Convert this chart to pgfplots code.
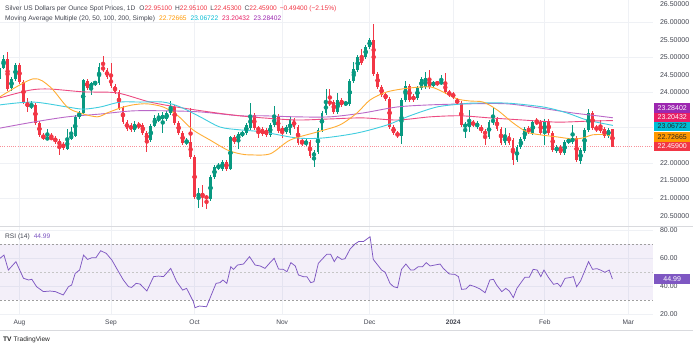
\documentclass[border=0pt]{standalone}
\usepackage{pgfplots}
\usepackage{pgfplotstable}
\pgfplotsset{compat=1.18}
\usepackage{fontspec}
\setmainfont{Liberation Sans}
\definecolor{up}{HTML}{089981}
\definecolor{dn}{HTML}{F23645}
\definecolor{ma20}{HTML}{FF9800}
\definecolor{ma50}{HTML}{00BCD4}
\definecolor{ma100}{HTML}{E91E63}
\definecolor{ma200}{HTML}{9C27B0}
\definecolor{rsi}{HTML}{7E57C2}
\definecolor{txt}{HTML}{434651}
\definecolor{gridc}{HTML}{EFF1F5}
\newcommand\hfont{\fontsize{6.6}{8}\selectfont}
\newcommand\sfont{\fontsize{7}{8}\selectfont}

\pgfplotstableread{
i O H L C
0 24.39 24.78 24.33 24.70
1 24.70 25.07 24.66 24.95
3 24.13 24.45 24.05 24.39
4 24.39 24.84 24.33 24.78
8 23.59 23.76 23.53 23.65
12 22.68 22.97 22.65 22.71
17 22.40 22.97 22.37 22.68
18 22.68 23.02 22.65 22.80
19 22.77 23.36 22.74 23.31
20 23.31 23.48 23.25 23.42
21 23.42 24.39 23.39 24.36
23 24.13 24.30 23.93 24.27
24 24.27 24.33 24.20 24.28
25 24.27 24.84 24.22 24.73
34 22.94 23.19 22.88 23.11
38 22.65 23.11 22.60 23.05
39 23.05 23.36 23.02 23.28
40 23.22 23.42 23.16 23.28
41 23.25 23.45 22.85 23.36
42 23.25 23.48 23.19 23.42
43 23.42 23.76 23.36 23.59
47 22.57 22.71 22.51 22.63
50 21.03 21.30 20.72 21.15
53 20.98 21.66 20.92 21.60
54 21.60 21.94 21.55 21.89
55 21.86 22.00 21.80 21.91
56 21.83 22.09 21.78 22.03
58 21.83 22.77 21.80 22.74
60 22.65 22.88 22.40 22.82
61 22.80 22.91 22.74 22.85
62 22.85 23.14 22.80 23.08
63 22.99 23.70 22.94 23.36
68 22.80 23.14 22.74 23.08
69 23.08 23.62 23.02 23.31
72 22.88 23.08 22.82 23.02
73 22.85 23.31 22.80 23.25
77 22.54 22.68 22.48 22.60
79 22.17 22.37 21.89 22.31
80 22.31 22.99 22.25 22.94
81 22.94 23.48 22.88 23.42
82 23.42 24.10 23.36 23.73
85 23.45 23.99 23.39 23.79
87 23.68 23.76 23.62 23.70
88 23.68 24.39 23.62 24.33
89 24.33 24.87 24.27 24.67
90 24.64 25.07 24.59 25.01
92 25.01 25.35 24.95 25.30
93 25.30 25.55 25.24 25.49
101 22.77 23.85 22.54 23.79
102 23.79 24.33 23.73 24.19
105 23.85 24.19 23.79 24.13
106 24.13 24.44 24.07 24.39
107 24.16 24.59 24.10 24.41
109 24.22 24.33 24.16 24.27
111 24.27 24.50 24.22 24.30
117 23.02 23.16 22.71 23.10
118 23.02 23.51 22.88 23.16
120 23.02 23.19 22.97 23.14
123 22.74 23.22 22.68 23.16
124 23.14 23.56 23.08 23.25
127 22.57 23.00 22.51 22.77
130 22.09 22.51 22.03 22.45
131 22.45 22.74 22.40 22.68
132 22.68 23.02 22.63 22.97
134 22.85 23.22 22.80 23.16
137 22.85 23.25 22.51 23.19
140 22.34 22.51 22.28 22.45
142 22.28 22.65 22.23 22.60
143 22.60 22.71 22.54 22.65
144 22.60 23.08 22.54 22.71
146 22.06 22.43 21.97 22.37
147 22.34 22.99 22.28 22.94
148 22.94 23.53 22.88 23.42
153 22.77 23.00 22.71 22.95
}\upc

\pgfplotstableread{
i O H L C
2 24.95 25.15 24.05 24.10
5 24.78 24.84 24.25 24.30
6 24.30 24.36 23.68 23.73
7 23.73 23.85 23.45 23.59
9 23.65 23.70 23.08 23.14
10 23.14 23.19 22.74 22.80
11 22.80 22.85 22.65 22.68
13 22.71 22.85 22.65 22.70
14 22.70 22.77 22.55 22.60
15 22.62 22.68 22.23 22.51
16 22.54 22.60 22.38 22.43
22 24.33 24.39 24.07 24.13
26 24.73 25.04 24.59 24.64
27 24.64 24.70 24.39 24.44
28 24.44 24.84 24.13 24.19
29 24.19 24.24 23.96 24.02
30 24.02 24.07 23.51 23.56
31 23.56 23.62 23.11 23.16
32 23.16 23.22 22.91 22.97
33 23.08 23.14 22.88 22.94
35 23.10 23.16 22.97 23.02
36 23.08 23.14 22.80 22.85
37 22.85 22.91 22.31 22.65
44 23.59 23.65 23.08 23.14
45 23.14 23.19 22.80 22.85
46 22.85 22.91 22.51 22.57
48 22.60 23.56 22.11 22.17
49 22.17 22.23 20.98 21.03
51 21.15 21.38 20.75 21.03
52 21.03 21.10 20.69 21.01
57 22.03 22.09 21.78 21.83
59 22.74 22.80 22.54 22.60
64 23.36 23.42 22.94 22.99
65 22.99 23.05 22.71 22.94
66 22.97 23.02 22.77 22.82
67 22.94 23.00 22.74 22.80
70 23.34 23.39 22.85 22.91
71 22.99 23.05 22.71 22.88
74 23.22 23.28 22.97 23.02
75 23.02 23.08 22.51 22.57
76 22.63 22.68 22.48 22.57
78 22.60 22.65 22.14 22.20
83 23.73 24.10 23.62 23.70
84 23.73 23.79 23.39 23.45
86 23.79 23.85 23.59 23.65
91 25.04 25.24 24.78 24.84
94 25.49 25.95 24.47 24.53
95 24.53 24.59 24.10 24.16
96 24.16 24.22 23.88 23.93
97 23.96 24.02 23.76 23.82
98 23.82 23.88 22.97 23.02
99 23.02 23.08 22.80 22.85
100 22.85 22.91 22.71 22.77
103 24.19 24.24 23.73 23.79
104 23.90 23.96 23.73 23.79
108 24.39 24.64 24.10 24.16
110 24.27 24.33 24.20 24.26
112 24.27 24.56 23.96 24.02
113 24.02 24.07 23.88 23.93
114 23.96 24.02 23.82 23.88
115 23.79 23.85 23.65 23.70
116 23.70 23.76 23.02 23.08
119 23.16 23.22 23.02 23.08
121 23.02 23.08 22.85 22.91
122 22.91 22.97 22.51 22.80
125 23.25 23.31 22.91 22.97
126 22.97 23.02 22.51 22.57
128 22.77 22.85 22.51 22.57
129 22.65 22.71 21.94 22.09
133 22.99 23.05 22.82 22.88
135 23.16 23.28 23.08 23.14
136 23.16 23.22 22.80 22.85
138 23.19 23.25 22.80 22.85
139 22.85 22.91 22.31 22.37
141 22.45 22.51 22.23 22.28
145 22.71 22.77 22.03 22.09
149 23.42 23.48 22.94 22.99
150 23.02 23.08 22.88 22.94
151 23.02 23.22 22.85 22.91
152 22.97 23.02 22.71 22.77
154 22.951 22.951 22.453 22.459
}\dnc

\pgfplotsset{
  tvaxis/.style={scale only axis, width=653pt, xmin=0.1, xmax=164.2,
    axis line style={draw=none}, tick style={draw=none},
    xtick={5,28,49,71,93,114,137,158},
    xmajorgrids, grid style={gridc, line width=0.7pt},
    yticklabel pos=right,
    yticklabel style={font=\sfont, text=txt, anchor=west, xshift=3.5pt,
      /pgf/number format/assume math mode=true},
  },
  wick/.style={color=#1, only marks, mark=none, forget plot, error bars/.cd, y dir=both, y explicit, error mark=none,
    error bar style={line width=0.8pt, color=#1}},
  body/.style={color=#1, only marks, mark=none, forget plot, error bars/.cd, y dir=both, y explicit, error mark=none,
    error bar style={line width=2.8pt, color=#1}},
}

\begin{document}
\begin{tikzpicture}[x=1pt, y=1pt]
\useasboundingbox (0,0) rectangle (693,349);
\fill[white] (0,0) rectangle (693,349);

% ---------------- price pane ----------------
\begin{axis}[tvaxis, at={(0pt,122pt)}, anchor=south west, height=227pt,
  ymin=20.18, ymax=26.63,
  xticklabels={},
  ytick={20.5,21,21.5,22,24,24.5,25,25.5,26,26.5},
  yticklabel style={/pgf/number format/.cd, fixed, fixed zerofill, precision=5},
  minor ytick={21,22,23,24,25,26}, yminorgrids, minor grid style={gridc, line width=0.7pt},
]
\addplot[dn!55, line width=0.9pt, dash pattern=on 1pt off 1.2pt, forget plot] coordinates {(0.1,22.459) (164.2,22.459)};

\addplot[wick=up] table[x=i, y expr={(\thisrow{H}+\thisrow{L})/2}, y error expr={(\thisrow{H}-\thisrow{L})/2}] {\upc};
\addplot[wick=dn] table[x=i, y expr={(\thisrow{H}+\thisrow{L})/2}, y error expr={(\thisrow{H}-\thisrow{L})/2}] {\dnc};
\addplot[body=up] table[x=i, y expr={(\thisrow{O}+\thisrow{C})/2}, y error expr={max(abs(\thisrow{C}-\thisrow{O})/2,0.014)}] {\upc};
\addplot[body=dn] table[x=i, y expr={(\thisrow{O}+\thisrow{C})/2}, y error expr={max(abs(\thisrow{C}-\thisrow{O})/2,0.014)}] {\dnc};

% SMA 200
\addplot[ma200!70, line width=0.9pt, smooth] coordinates {
(0.1,22.99)(8.4,23.16)(17.0,23.31)(25.3,23.39)(33.5,23.48)(42.1,23.48)(50.4,23.45)(60.4,23.34)(66.2,23.34)(74.7,23.31)(83.0,23.31)(91.3,23.42)(99.9,23.59)(108.2,23.65)(118.2,23.68)(127.5,23.68)(135.8,23.56)(144.1,23.42)(150.1,23.34)(154.1,23.284)};
% SMA 100
\addplot[ma100!80, line width=0.9pt, smooth] coordinates {
(0.1,23.85)(7.7,24.07)(12.7,24.10)(21.0,24.02)(29.5,23.99)(37.8,23.73)(46.1,23.56)(54.6,23.42)(60.4,23.34)(66.2,23.28)(74.7,23.22)(83.0,23.25)(91.3,23.28)(99.9,23.22)(108.2,23.31)(115.7,23.34)(123.2,23.28)(131.5,23.22)(140.1,23.16)(148.4,23.19)(154.1,23.204)};
% SMA 50
\addplot[ma50!75, line width=0.9pt, smooth] coordinates {
(0.1,23.65)(8.4,23.73)(17.0,23.59)(21.0,23.53)(25.3,23.59)(30.3,23.73)(35.3,23.73)(41.1,23.73)(45.4,23.59)(50.4,23.31)(55.4,23.02)(60.4,22.94)(66.2,22.88)(74.7,22.71)(81.3,22.71)(89.8,22.85)(97.4,23.08)(103.1,23.34)(109.9,23.59)(116.5,23.68)(119.0,23.70)(127.5,23.70)(136.6,23.59)(142.6,23.42)(147.6,23.22)(154.1,23.067)};
% SMA 20
\addplot[ma20!80, line width=0.9pt, smooth] coordinates {
(0.1,23.88)(8.4,24.39)(12.7,24.16)(17.0,23.59)(20.2,23.42)(24.5,23.31)(27.0,23.42)(30.3,23.56)(33.5,23.65)(37.1,23.68)(41.1,23.59)(44.6,23.36)(48.6,22.94)(52.9,22.65)(57.2,22.37)(60.4,22.26)(62.9,22.23)(68.0,22.26)(73.0,22.65)(79.8,22.88)(85.5,23.08)(89.8,23.42)(93.1,23.79)(97.4,24.02)(103.1,24.13)(108.2,24.16)(111.4,24.02)(115.0,23.82)(118.2,23.76)(121.5,23.73)(125.0,23.51)(129.0,23.14)(132.5,22.88)(135.8,22.80)(140.1,22.74)(144.1,22.68)(146.6,22.71)(149.1,22.80)(152.6,22.80)(154.1,22.727)};
\end{axis}

% ---------------- RSI pane ----------------
\begin{axis}[tvaxis, at={(0pt,34pt)}, anchor=south west, height=88pt,
  ymin=19.29, ymax=82.14,
  xticklabels={Aug,Sep,Oct,Nov,Dec,\textbf{2024},Feb,Mar},
  xticklabel style={font=\hfont, text=txt, yshift=-1.5pt},
  ytick={20,40,60,80}, yticklabels={20.00,40.00,60.00,80.00}, ymajorgrids,
]
\fill[rsi, opacity=0.09] (axis cs:0.1,30) rectangle (axis cs:164.2,70);
\draw[gray!75, line width=0.6pt, dash pattern=on 2pt off 2pt] (axis cs:0.1,70) -- (axis cs:164.2,70);
\draw[gray!45, line width=0.6pt, dash pattern=on 2pt off 2pt] (axis cs:0.1,50) -- (axis cs:164.2,50);
\draw[gray!75, line width=0.6pt, dash pattern=on 2pt off 2pt] (axis cs:0.1,30) -- (axis cs:164.2,30);
\addplot[rsi, line width=0.75pt] coordinates {
(0.1,59.8)(1.1,62.1)(2.2,51.4)(4.1,57.4)(6.0,45.5)(7.3,44.3)(8.1,44.8)(9.3,39.5)(11.0,36.0)(12.7,36.4)(14.0,36.0)(16.0,33.6)(17.3,39.5)(18.1,40.7)(19.0,49.0)(20.1,51.4)(21.1,62.1)(22.1,59.0)(23.2,60.2)(24.2,60.2)(25.4,65.2)(26.8,63.3)(28.2,58.6)(29.4,52.6)(31.1,44.3)(32.4,39.5)(33.2,39.0)(34.3,41.9)(35.3,41.4)(37.0,36.4)(38.7,46.7)(39.9,47.1)(41.2,46.7)(43.0,52.6)(44.5,43.1)(46.0,37.1)(47.0,38.3)(48.7,28.8)(49.1,24.5)(50.2,25.7)(52.0,25.2)(53.7,37.1)(54.4,41.9)(55.4,42.4)(56.1,44.3)(57.1,41.9)(58.1,53.8)(58.8,51.9)(59.8,55.0)(61.3,55.7)(62.8,61.0)(64.2,55.0)(65.5,54.3)(66.7,52.6)(67.8,56.2)(69.0,59.8)(70.1,52.1)(71.3,51.9)(72.2,50.2)(73.2,56.7)(74.3,54.3)(75.1,47.9)(76.3,46.7)(77.2,46.7)(78.2,42.4)(79.0,43.1)(80.1,56.2)(81.0,59.0)(82.2,62.6)(83.2,62.6)(84.1,57.4)(84.9,61.0)(86.0,59.0)(86.8,59.5)(88.1,66.5)(89.3,70.0)(90.2,71.7)(91.4,71.7)(93.1,75.2)(93.9,59.0)(95.2,54.3)(96.0,51.4)(96.9,49.8)(98.1,41.9)(99.0,39.5)(100.0,38.8)(101.0,51.9)(102.1,55.7)(103.3,51.4)(104.1,51.4)(105.2,53.8)(106.3,53.8)(107.2,56.7)(108.2,54.3)(109.4,55.0)(110.7,55.7)(111.5,52.6)(113.0,48.6)(114.4,48.3)(115.3,46.7)(116.1,37.6)(117.2,37.9)(118.2,40.7)(119.5,39.5)(120.7,37.9)(122.0,35.2)(123.2,44.3)(124.1,44.8)(124.9,40.7)(126.2,36.0)(127.2,38.3)(128.1,36.4)(129.1,31.7)(130.0,38.3)(131.2,43.1)(132.0,46.2)(133.1,46.2)(134.1,51.9)(135.1,51.4)(136.0,46.7)(136.8,51.4)(137.9,46.2)(139.2,41.2)(140.2,41.9)(141.0,39.5)(142.1,45.5)(143.3,46.0)(144.2,46.7)(145.0,39.5)(146.0,43.6)(147.0,50.5)(148.0,57.4)(149.0,51.9)(150.1,52.4)(151.0,51.4)(152.1,49.8)(153.2,51.4)(154.0,44.99)};
\end{axis}

% separators
\fill[white] (654,17) rectangle (693,33.3);
\draw[gridc!80!gray, line width=0.8pt] (0,122.2) -- (693,122.2);
\draw[gridc!80!gray, line width=0.8pt] (0,19) -- (693,19);

% value tags
\tikzset{tag/.style={minimum width=36pt, minimum height=9.4pt, inner sep=0pt, anchor=west, font=\sfont}}
\node[tag, fill=ma200, text=white] at (654,241) {23.28402};
\node[tag, fill=ma100, text=white] at (654,231.5) {23.20432};
\node[tag, fill=ma50, text=black!85] at (654,222.5) {23.06722};
\node[tag, fill=ma20, text=black!85] at (654,212) {22.72665};
\node[tag, fill=dn, text=white] at (654,202.5) {22.45900};
\node[tag, fill=rsi, text=white] at (654,70) {44.99};

% header texts
\node[anchor=west, inner sep=0pt, font=\hfont, text=txt] at (5,340.5) {Silver US Dollars per Ounce Spot Prices, 1D\hspace{4pt}O\textcolor{dn}{22.95100}\hspace{3pt}H\textcolor{dn}{22.95100}\hspace{3pt}L\textcolor{dn}{22.45300}\hspace{3pt}C\textcolor{dn}{22.45900}\hspace{3pt}\textcolor{dn}{−0.49400 (−2.15\%)}};
\node[anchor=west, inner sep=0pt, font=\hfont, text=txt] at (5,330) {Moving Average Multiple (20, 50, 100, 200, Simple)\hspace{4pt}\textcolor{ma20}{22.72665}\hspace{4pt}\textcolor{ma50}{23.06722}\hspace{4pt}\textcolor{ma100}{23.20432}\hspace{4pt}\textcolor{ma200}{23.28402}};
\node[anchor=west, inner sep=0pt, font=\hfont, text=txt] at (5,112.5) {RSI (14)\hspace{4pt}\textcolor{rsi}{44.99}};
\node[anchor=west, inner sep=0pt, font=\hfont, text=black!85] at (3,9) {\textbf{TV}\hspace{2pt}TradingView};
\end{tikzpicture}
\end{document}
